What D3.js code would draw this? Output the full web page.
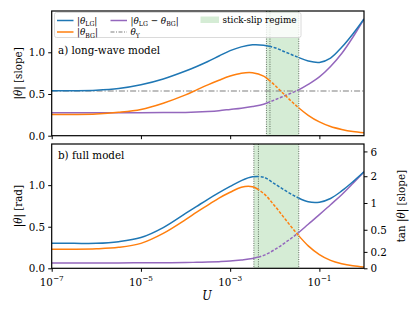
<!DOCTYPE html>
<html>
<head>
<meta charset="utf-8">
<script src="https://cdn.jsdelivr.net/npm/d3@7"></script>
<style>
body { margin: 0; background: #fff; }
svg text { fill: #000; }
</style>
</head>
<body>
<div id="chart"></div>
<script>
// log10(U) sample positions
const logU = [-7, -6.5, -6, -5.5, -5, -4.5, -4, -3.75, -3.5, -3.25, -3, -2.75, -2.5, -2.25, -2, -1.75, -1.5, -1.25, -1, -0.75, -0.5, -0.25, 0];

// a) long-wave model, |theta| in slope
const lwLG   = [0.54, 0.54, 0.545, 0.565, 0.61, 0.68, 0.775, 0.83, 0.89, 0.955, 1.02, 1.065, 1.09, 1.085, 1.055, 1.0, 0.945, 0.895, 0.878, 0.93, 1.06, 1.22, 1.40];
const lwBG   = [0.255, 0.255, 0.26, 0.28, 0.315, 0.39, 0.49, 0.55, 0.61, 0.665, 0.715, 0.75, 0.756, 0.715, 0.605, 0.475, 0.35, 0.245, 0.165, 0.11, 0.075, 0.05, 0.035];
const lwDiff = [0.276, 0.276, 0.276, 0.276, 0.276, 0.277, 0.279, 0.283, 0.29, 0.30, 0.315, 0.33, 0.35, 0.378, 0.43, 0.485, 0.54, 0.615, 0.705, 0.83, 0.985, 1.18, 1.40];
const thetaY = 0.535;

// b) full model, |theta| in rad
const fmLG   = [0.30, 0.30, 0.30, 0.32, 0.37, 0.49, 0.66, 0.745, 0.83, 0.91, 0.985, 1.055, 1.10, 1.095, 1.015, 0.93, 0.855, 0.80, 0.795, 0.84, 0.93, 1.04, 1.16];
const fmBG   = [0.23, 0.23, 0.235, 0.252, 0.30, 0.42, 0.585, 0.675, 0.76, 0.845, 0.915, 0.975, 0.98, 0.9, 0.75, 0.58, 0.415, 0.27, 0.165, 0.095, 0.055, 0.03, 0.015];
const fmDiff = [0.065, 0.065, 0.065, 0.065, 0.066, 0.067, 0.07, 0.072, 0.075, 0.08, 0.087, 0.10, 0.118, 0.155, 0.225, 0.315, 0.415, 0.53, 0.645, 0.765, 0.885, 1.02, 1.16];

// stick-slip regime limits in U
const regimeA = [6.5e-3, 7.8e-3, 0.0345];
const regimeB = [3.4e-3, 4.3e-3, 0.0345];

// tick labels
const xTickExp = [-7, -5, -3, -1];
const yTicks = [0, 0.5, 1.0];
const tanTicks = [0, 0.2, 0.5, 1, 2, 6];

const colors = { LG: '#1f77b4', BG: '#ff7f0e', diff: '#9467bd', Y: '#7f7f7f', regime: '#2ca02c' };
const FONT = "'DejaVu Serif Condensed', 'DejaVu Serif', serif";
const TFS = 11.5; // tick / axis label size

const W = 416, H = 314;
const left = 51.7, right = 364;
const svg = d3.select('#chart').append('svg').attr('width', W).attr('height', H)
	.style('font-family', FONT).style('font-stretch', 'condensed');

const x = d3.scaleLog().domain([1e-7, 1]).range([left, right]);
const panels = [
	{ key: 'a', top: 11, bottom: 135.7, series: [lwLG, lwBG, lwDiff], regime: regimeA, label: 'a) long-wave model', ylab: '[slope]' },
	{ key: 'b', top: 144, bottom: 268.3, series: [fmLG, fmBG, fmDiff], regime: regimeB, label: 'b) full model', ylab: '[rad]' }
];
const U = logU.map(e => Math.pow(10, e));

// text with italic theta and subscripts
function mathText(sel, parts, fs) {
	let shifted = false;
	sel.style('font-family', FONT);
	parts.forEach(p => {
		const ts = sel.append('tspan').text(p.t);
		if (p.i) ts.style('font-style', 'italic');
		if (p.sub) {
			ts.attr('font-size', fs * 0.7).attr('dy', shifted ? 0 : fs * 0.22);
			shifted = true;
		} else if (p.sup) {
			ts.attr('font-size', fs * 0.7).attr('dy', -fs * 0.42);
		} else if (shifted) {
			ts.attr('dy', -fs * 0.22);
			shifted = false;
		}
	});
}

panels.forEach((p, pi) => {
	const y = d3.scaleLinear().domain([0, 1.495]).range([p.bottom, p.top]);
	const g = svg.append('g');
	const clipId = 'clip' + p.key;
	const xr0 = x(p.regime[1]), xr1 = x(p.regime[2]);

	const defs = g.append('defs');
	defs.append('clipPath').attr('id', clipId + 'in')
		.append('rect').attr('x', xr0).attr('y', p.top).attr('width', xr1 - xr0).attr('height', p.bottom - p.top);
	const out = defs.append('clipPath').attr('id', clipId + 'out');
	out.append('rect').attr('x', left).attr('y', p.top).attr('width', xr0 - left).attr('height', p.bottom - p.top);
	out.append('rect').attr('x', xr1).attr('y', p.top).attr('width', right - xr1).attr('height', p.bottom - p.top);

	// regime shading
	g.append('rect')
		.attr('x', x(p.regime[0])).attr('y', p.top)
		.attr('width', x(p.regime[2]) - x(p.regime[0]))
		.attr('height', p.bottom - p.top)
		.attr('fill', colors.regime).attr('fill-opacity', 0.2);
	g.selectAll('line.reg').data(p.regime).enter().append('line')
		.attr('x1', d => x(d)).attr('x2', d => x(d))
		.attr('y1', p.top).attr('y2', p.bottom)
		.attr('stroke', '#3d4d3d').attr('stroke-width', 0.8)
		.attr('stroke-dasharray', '1,1.3');

	if (pi === 0) {
		g.append('line')
			.attr('x1', left).attr('x2', right)
			.attr('y1', y(thetaY)).attr('y2', y(thetaY))
			.attr('stroke', colors.Y).attr('stroke-width', 1.1)
			.attr('stroke-dasharray', '6,2,1.2,2');
	}

	const line = d3.line().x((d, i) => x(U[i])).y(d => y(d)).curve(d3.curveCatmullRom.alpha(0.5));
	const cols = [colors.LG, colors.BG, colors.diff];
	[2, 1, 0].forEach(k => {
		g.append('path').attr('d', line(p.series[k]))
			.attr('fill', 'none').attr('stroke', cols[k]).attr('stroke-width', 1.5)
			.attr('clip-path', `url(#${clipId}out)`);
		g.append('path').attr('d', line(p.series[k]))
			.attr('fill', 'none').attr('stroke', cols[k]).attr('stroke-width', 1.5)
			.attr('stroke-dasharray', '3,1.6')
			.attr('clip-path', `url(#${clipId}in)`);
	});

	// frame
	g.append('rect').attr('x', left).attr('y', p.top)
		.attr('width', right - left).attr('height', p.bottom - p.top)
		.attr('fill', 'none').attr('stroke', '#000').attr('stroke-width', 1.2);

	// x axis
	const xAxis = d3.axisBottom(x).tickValues(xTickExp.map(e => Math.pow(10, e)))
		.tickSize(3.5).tickFormat('');
	const xg = g.append('g').attr('transform', `translate(0,${p.bottom})`).call(xAxis);
	xg.select('.domain').remove();
	xg.selectAll('.tick line').attr('stroke-width', 1);
	if (pi === 1) {
		xTickExp.forEach(e => {
			const t = g.append('text').attr('x', x(Math.pow(10, e))).attr('y', 286)
				.attr('text-anchor', 'middle').attr('font-size', TFS);
			mathText(t, [{ t: '10' }, { t: '\u2212' + Math.abs(e), sup: true }], TFS);
		});
	}

	// left y axis
	const yg = g.append('g').attr('transform', `translate(${left},0)`)
		.call(d3.axisLeft(y).tickValues(yTicks).tickSize(3.5).tickPadding(3).tickFormat(d3.format('.1f')));
	yg.attr('font-family', null);
	yg.select('.domain').remove();
	yg.selectAll('.tick line').attr('stroke-width', 1);
	yg.selectAll('.tick text').attr('font-size', TFS).style('font-family', FONT);

	// right tan axis in panel b
	if (pi === 1) {
		const rg = g.append('g').attr('transform', `translate(${right},0)`)
			.call(d3.axisRight(y).tickValues(tanTicks.map(t => Math.atan(t))).tickSize(3.5).tickPadding(3)
				.tickFormat((d, i) => String(tanTicks[i])));
		rg.attr('font-family', null);
		rg.select('.domain').remove();
		rg.selectAll('.tick line').attr('stroke-width', 1);
		rg.selectAll('.tick text').attr('font-size', TFS).style('font-family', FONT);

		const rl = svg.append('text').attr('font-size', TFS).attr('text-anchor', 'middle')
			.attr('transform', `translate(405,${(p.top + p.bottom) / 2}) rotate(-90)`);
		mathText(rl, [{ t: 'tan |' }, { t: '\u03B8', i: true }, { t: '| [slope]' }], TFS);
	}

	// panel label
	g.append('text').attr('x', 58).attr('y', p.top + (pi === 0 ? 43 : 15)).attr('font-size', 11.5)
		.style('font-family', FONT).text(p.label);

	// y label
	const yl = svg.append('text').attr('font-size', TFS).attr('text-anchor', 'middle')
		.attr('transform', `translate(22,${(p.top + p.bottom) / 2}) rotate(-90)`);
	mathText(yl, [{ t: '|' }, { t: '\u03B8', i: true }, { t: '| ' + p.ylab }], TFS);
});

// x label
svg.append('text').attr('x', 207).attr('y', 300).attr('text-anchor', 'middle')
	.attr('font-size', 12.5).style('font-style', 'italic').style('font-family', FONT).text('U');

// legend
const lg = svg.append('g');
lg.append('rect').attr('x', 54.5).attr('y', 12.5).attr('width', 246.5).attr('height', 25)
	.attr('rx', 2).attr('fill', '#fff').attr('fill-opacity', 0.8)
	.attr('stroke', '#d0d0d0').attr('stroke-width', 0.8);
const lfs = 9.8;
const legendItems = [
	{ x: 57, y: 20.5, color: colors.LG, parts: [{ t: '|' }, { t: '\u03B8', i: true }, { t: 'LG', sub: true }, { t: '|' }] },
	{ x: 57, y: 32, color: colors.BG, parts: [{ t: '|' }, { t: '\u03B8', i: true }, { t: 'BG', sub: true }, { t: '|' }] },
	{ x: 110.5, y: 20.5, color: colors.diff, parts: [{ t: '|' }, { t: '\u03B8', i: true }, { t: 'LG', sub: true }, { t: ' \u2212 ' }, { t: '\u03B8', i: true }, { t: 'BG', sub: true }, { t: '|' }] },
	{ x: 110.5, y: 32, color: colors.Y, dash: '4,1.5,1,1.5', parts: [{ t: '\u03B8', i: true }, { t: 'Y', sub: true }] }
];
legendItems.forEach(it => {
	lg.append('line').attr('x1', it.x).attr('x2', it.x + 16.5).attr('y1', it.y).attr('y2', it.y)
		.attr('stroke', it.color).attr('stroke-width', it.dash ? 1.1 : 1.5)
		.attr('stroke-dasharray', it.dash || null);
	const t = lg.append('text').attr('x', it.x + 20).attr('y', it.y + 3.4).attr('font-size', lfs);
	mathText(t, it.parts, lfs);
});
lg.append('rect').attr('x', 200.5).attr('y', 16.5).attr('width', 18.5).attr('height', 6.5)
	.attr('fill', colors.regime).attr('fill-opacity', 0.2);
lg.append('text').attr('x', 222.5).attr('y', 23.1).attr('font-size', lfs)
	.style('font-family', FONT).text('stick-slip regime');
</script>
</body>
</html>
